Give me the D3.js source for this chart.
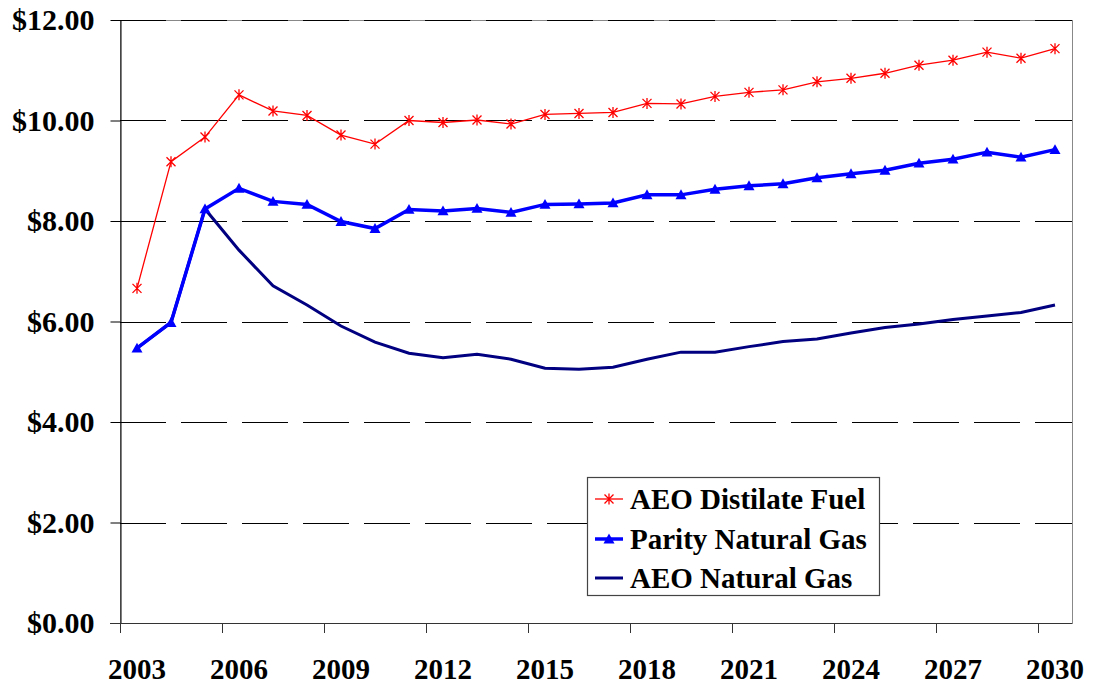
<!DOCTYPE html>
<html>
<head>
<meta charset="utf-8">
<script src="https://cdn.jsdelivr.net/npm/d3@7"></script>
<style>
  body { margin: 0; background: #fff; }
  svg text { font-family: 'Liberation Serif', 'DejaVu Serif Condensed', 'DejaVu Serif', serif; font-weight: bold; }
</style>
</head>
<body>
<div id="chart"></div>
<script>
// Data
const years = d3.range(2003, 2031);
const distillate = [6.66, 9.18, 9.67, 10.51, 10.19, 10.1, 9.71, 9.53, 10.0, 9.96, 10.01, 9.93, 10.12, 10.14,
  10.16, 10.34, 10.33, 10.48, 10.56, 10.61, 10.77, 10.84, 10.94, 11.1, 11.2, 11.36, 11.24, 11.43];
const parityGas = [5.47, 5.98, 8.24, 8.65, 8.39, 8.33, 7.99, 7.85, 8.23, 8.2, 8.25, 8.17, 8.33, 8.34,
  8.36, 8.52, 8.52, 8.63, 8.7, 8.74, 8.86, 8.94, 9.01, 9.15, 9.23, 9.37, 9.27, 9.42];
const aeoGas = [5.47, 5.98, 8.24, 7.42, 6.71, 6.33, 5.91, 5.59, 5.37, 5.28, 5.35, 5.25, 5.07, 5.05,
  5.09, 5.25, 5.39, 5.39, 5.5, 5.6, 5.65, 5.77, 5.88, 5.95, 6.04, 6.11, 6.18, 6.33];
const yTicks = [0, 2, 4, 6, 8, 10, 12];
const seriesNames = ['AEO Distilate Fuel', 'Parity Natural Gas', 'AEO Natural Gas'];

const width = 1093;
const height = 689;
const margin = { t: 20, r: 20, b: 66, l: 120 };

const svg = d3
  .select('#chart')
  .append('svg')
  .attr('width', width)
  .attr('height', height);

const x = d3.scaleBand().domain(years).range([margin.l, width - margin.r - 1]);
const y = d3.scaleLinear().domain([0, 12]).range([height - margin.b, margin.t]);
const cx = (i) => x(years[i]) + x.bandwidth() / 2;

// plot border
svg
  .append('rect')
  .attr('x', margin.l + 0.5)
  .attr('y', y(12) + 0.5)
  .attr('width', x.range()[1] - margin.l)
  .attr('height', y(0) - y(12))
  .attr('fill', 'none')
  .attr('stroke', '#888')
  .attr('stroke-width', 1);

// gridlines
svg
  .append('g')
  .selectAll('line')
  .data(yTicks.filter((d) => d > 0))
  .join('line')
  .attr('x1', margin.l)
  .attr('x2', x.range()[1])
  .attr('y1', (d) => Math.round(y(d)) + 0.5)
  .attr('y2', (d) => Math.round(y(d)) + 0.5)
  .attr('stroke', '#000')
  .attr('stroke-dasharray', '46,15');

// y axis
const yAxis = svg
  .append('g')
  .attr('transform', `translate(${margin.l + 0.5},0)`)
  .call(
    d3
      .axisLeft(y)
      .tickValues(yTicks)
      .tickSize(10)
      .tickSizeOuter(0)
      .tickPadding(16)
      .tickFormat((d) => `$${d.toFixed(2)}`),
  );
yAxis.attr('font-family', null);
yAxis.selectAll('text').style('font-size', '30px').attr('fill', '#000');
yAxis.selectAll('line, path').attr('stroke', '#000');

// x axis
const xg = svg.append('g');
xg.append('line')
  .attr('x1', margin.l - 10)
  .attr('x2', x.range()[1])
  .attr('y1', Math.round(y(0)) + 0.5)
  .attr('y2', Math.round(y(0)) + 0.5)
  .attr('stroke', '#333');
const labelYears = years.filter((d, i) => i % 3 === 0);
xg.selectAll('.tick')
  .data(labelYears)
  .join('line')
  .attr('x1', (d) => Math.round(x(d)) + 0.5)
  .attr('x2', (d) => Math.round(x(d)) + 0.5)
  .attr('y1', y(0))
  .attr('y2', y(0) + 10)
  .attr('stroke', '#333');
xg.selectAll('text')
  .data(labelYears)
  .join('text')
  .attr('x', (d) => x(d) + x.bandwidth() / 2)
  .attr('y', 679)
  .attr('text-anchor', 'middle')
  .style('font-size', '29px')
  .text((d) => d);

// lines
const line = (vals) =>
  d3
    .line()
    .x((d, i) => cx(i))
    .y((d) => y(d))(vals);

const star = (g, px, py, r) => {
  g.append('path')
    .attr('d', `M${px - r},${py - r}L${px + r},${py + r}M${px - r},${py + r}L${px + r},${py - r}M${px},${py - r - 1}L${px},${py + r + 1}`)
    .attr('stroke', '#ff0000')
    .attr('stroke-width', 1.3)
    .attr('fill', 'none');
};
const tri = (g, px, py, s) => {
  g.append('path')
    .attr('d', `M${px},${py - s}L${px + s},${py + s * 0.8}L${px - s},${py + s * 0.8}Z`)
    .attr('fill', '#0000ff');
};

svg
  .append('path')
  .attr('d', line(aeoGas))
  .attr('fill', 'none')
  .attr('stroke', '#000080')
  .attr('stroke-width', 3);

svg
  .append('path')
  .attr('d', line(parityGas))
  .attr('fill', 'none')
  .attr('stroke', '#0000ff')
  .attr('stroke-width', 3.5);
const triG = svg.append('g');
parityGas.forEach((d, i) => tri(triG, cx(i), y(d), 5.5));

svg
  .append('path')
  .attr('d', line(distillate))
  .attr('fill', 'none')
  .attr('stroke', '#ff0000')
  .attr('stroke-width', 1.3);
const starG = svg.append('g');
distillate.forEach((d, i) => star(starG, cx(i), y(d), 4.5));

// legend
const legend = svg.append('g').attr('class', 'legend');
legend
  .append('rect')
  .attr('x', 587.5)
  .attr('y', 477.5)
  .attr('width', 292)
  .attr('height', 118)
  .attr('fill', '#fff')
  .attr('stroke', '#444')
  .attr('stroke-width', 1.2);

const rowY = [499, 539, 578];
const rowColor = ['#ff0000', '#0000ff', '#000080'];
const rowWidth = [1.3, 3.5, 3];
seriesNames.forEach((name, i) => {
  legend
    .append('line')
    .attr('x1', 595)
    .attr('x2', 623)
    .attr('y1', rowY[i])
    .attr('y2', rowY[i])
    .attr('stroke', rowColor[i])
    .attr('stroke-width', rowWidth[i]);
  if (i === 0) star(legend, 609, rowY[i], 4.5);
  if (i === 1) tri(legend, 609, rowY[i], 5.5);
  legend
    .append('text')
    .attr('x', 630)
    .attr('y', rowY[i])
    .attr('dy', '0.35em')
    .style('font-size', '29px')
    .text(name);
});
</script>
</body>
</html>
